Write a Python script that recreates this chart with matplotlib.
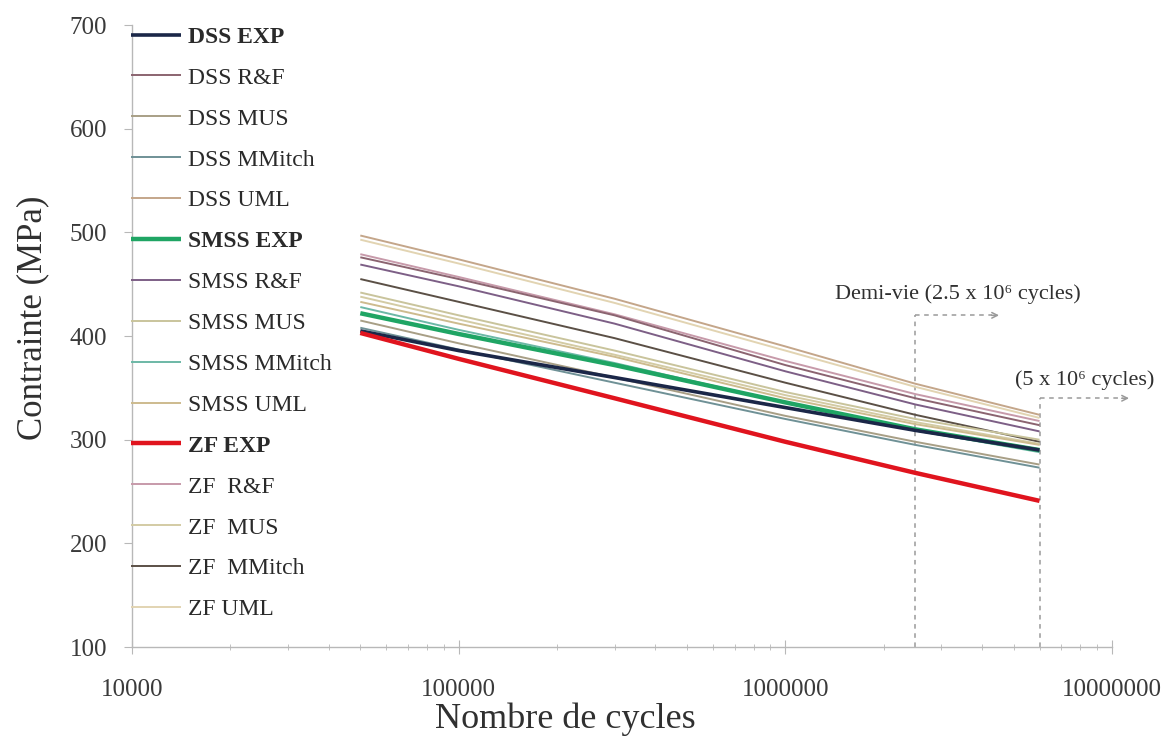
import numpy as np
import matplotlib
matplotlib.use("Agg")
import matplotlib.pyplot as plt
from matplotlib.ticker import FixedLocator, FuncFormatter, LogLocator

plt.rcParams['font.family'] = ['Liberation Serif', 'DejaVu Serif']

cycles = [5e4, 1e5, 3e5, 1e6, 2.5e6, 6e6]

labels = ["DSS EXP", "DSS R&F", "DSS MUS", "DSS MMitch", "DSS UML",
          "SMSS EXP", "SMSS R&F", "SMSS MUS", "SMSS MMitch", "SMSS UML",
          "ZF EXP", "ZF  R&F", "ZF  MUS", "ZF  MMitch", "ZF UML"]

dss_exp = [405, 386, 360, 331, 309, 290]
dss_rf = [476, 455, 420, 372, 340, 314]
dss_mus = [415, 393, 360, 323, 298, 276]
dss_mmitch = [408, 387, 355, 320, 295, 273]
dss_uml = [497, 474, 436, 390, 354, 324]
smss_exp = [422, 402, 372, 336, 310, 290]
smss_rf = [469, 448, 412, 366, 334, 308]
smss_mus = [442, 420, 386, 346, 320, 300]
smss_mmitch = [428, 406, 374, 336, 309, 288]
smss_uml = [433, 412, 380, 340, 315, 295]
zf_exp = [403, 378, 340, 298, 268, 241]
zf_rf = [479, 457, 421, 376, 344, 318]
zf_mus = [438, 416, 382, 343, 317, 296]
zf_mmitch = [455, 433, 398, 355, 324, 298]
zf_uml = [493, 470, 432, 386, 351, 321]

series = [dss_exp, dss_rf, dss_mus, dss_mmitch, dss_uml,
          smss_exp, smss_rf, smss_mus, smss_mmitch, smss_uml,
          zf_exp, zf_rf, zf_mus, zf_mmitch, zf_uml]

colors = ["#1b2748", "#8b6470", "#a89f86", "#6f9196", "#c4a68a",
          "#1fa564", "#7d5f86", "#c9c49c", "#6cb8a6", "#cdbb8e",
          "#e0141e", "#c79aaa", "#d3cba4", "#5b5046", "#e2d4b2"]
widths = [2.6, 1.4, 1.4, 1.4, 1.4,
          3.2, 1.4, 1.4, 1.4, 1.4,
          3.2, 1.4, 1.4, 1.4, 1.4]

fig = plt.figure(figsize=(11.73, 7.38), dpi=100)
ax = fig.add_axes([0.1125, 0.1233, 0.8355, 0.8427])

# draw background lines first, experimental curves on top
order = [4, 14, 11, 1, 6, 13, 7, 12, 9, 8, 2, 3, 5, 0, 10]
handles = {}
for i in order:
    z = 4 if widths[i] > 2 else 2
    ln, = ax.plot(cycles, series[i], color=colors[i], lw=widths[i], zorder=z,
                  solid_capstyle='butt')
    handles[i] = ln

ax.set_xscale('log')
ax.set_xlim(1e4, 1e7)
ax.set_ylim(100, 700)
ax.yaxis.set_major_locator(FixedLocator([100, 200, 300, 400, 500, 600, 700]))
ax.xaxis.set_major_locator(FixedLocator([1e4, 1e5, 1e6, 1e7]))
ax.xaxis.set_major_formatter(FuncFormatter(lambda v, p: f"{int(round(v))}"))
ax.xaxis.set_minor_locator(LogLocator(base=10, subs=np.arange(2, 10)))
ax.xaxis.set_minor_formatter(FuncFormatter(lambda v, p: ""))

for s in ["top", "right"]:
    ax.spines[s].set_visible(False)
for s in ["left", "bottom"]:
    ax.spines[s].set_color("#b8b8b8")
    ax.spines[s].set_linewidth(1.0)

ax.tick_params(axis='y', which='major', direction='out', length=6, color="#b8b8b8",
               labelsize=18, labelcolor="#3a3a3a", pad=12)
ax.tick_params(axis='x', which='major', direction='inout', length=10, color="#b8b8b8",
               labelsize=18, labelcolor="#3a3a3a", pad=18)
ax.tick_params(axis='x', which='minor', direction='inout', length=5, color="#b8b8b8")

ax.set_xlabel("Nombre de cycles", fontsize=26, color="#303030")
ax.set_ylabel("Contrainte (MPa)", fontsize=25, color="#303030")
ax.xaxis.set_label_coords(0.442, -0.09)
ax.yaxis.set_label_coords(-0.084, 0.53)

# dashed guide lines and arrows
guide = dict(color="#9a9a9a", lw=1.1, ls=(0, (3, 3)), zorder=1, clip_on=False)
ax.plot([2.5e6, 2.5e6], [100, 420], **guide)
ax.plot([2.5e6, 4.3e6], [420, 420], **guide)
ax.annotate("", xy=(4.6e6, 420), xytext=(4.2e6, 420),
            arrowprops=dict(arrowstyle="->", color="#9a9a9a", lw=1.1), annotation_clip=False)
ax.plot([6e6, 6e6], [100, 340], **guide)
ax.plot([6e6, 1.08e7], [340, 340], **guide)
ax.annotate("", xy=(1.15e7, 340), xytext=(1.05e7, 340),
            arrowprops=dict(arrowstyle="->", color="#9a9a9a", lw=1.1), annotation_clip=False)

ax.text(1.42e6, 440, "Demi-vie (2.5 x 10⁶ cycles)", fontsize=16, color="#303030",
        va='center', ha='left')
ax.text(5.05e6, 357, "(5 x 10⁶ cycles)", fontsize=16, color="#303030",
        va='center', ha='left', clip_on=False)

leg = ax.legend([handles[i] for i in range(15)], labels, loc='upper left',
                bbox_to_anchor=(-0.001, 0.998), frameon=False, fontsize=17,
                handlelength=2.1, handletextpad=0.3, labelspacing=0.82,
                borderaxespad=0.0, borderpad=0.0)
for i, t in enumerate(leg.get_texts()):
    t.set_color("#2a2a2a")
    if "EXP" in labels[i]:
        t.set_fontweight('bold')

fig.savefig("out.png", dpi=100)
